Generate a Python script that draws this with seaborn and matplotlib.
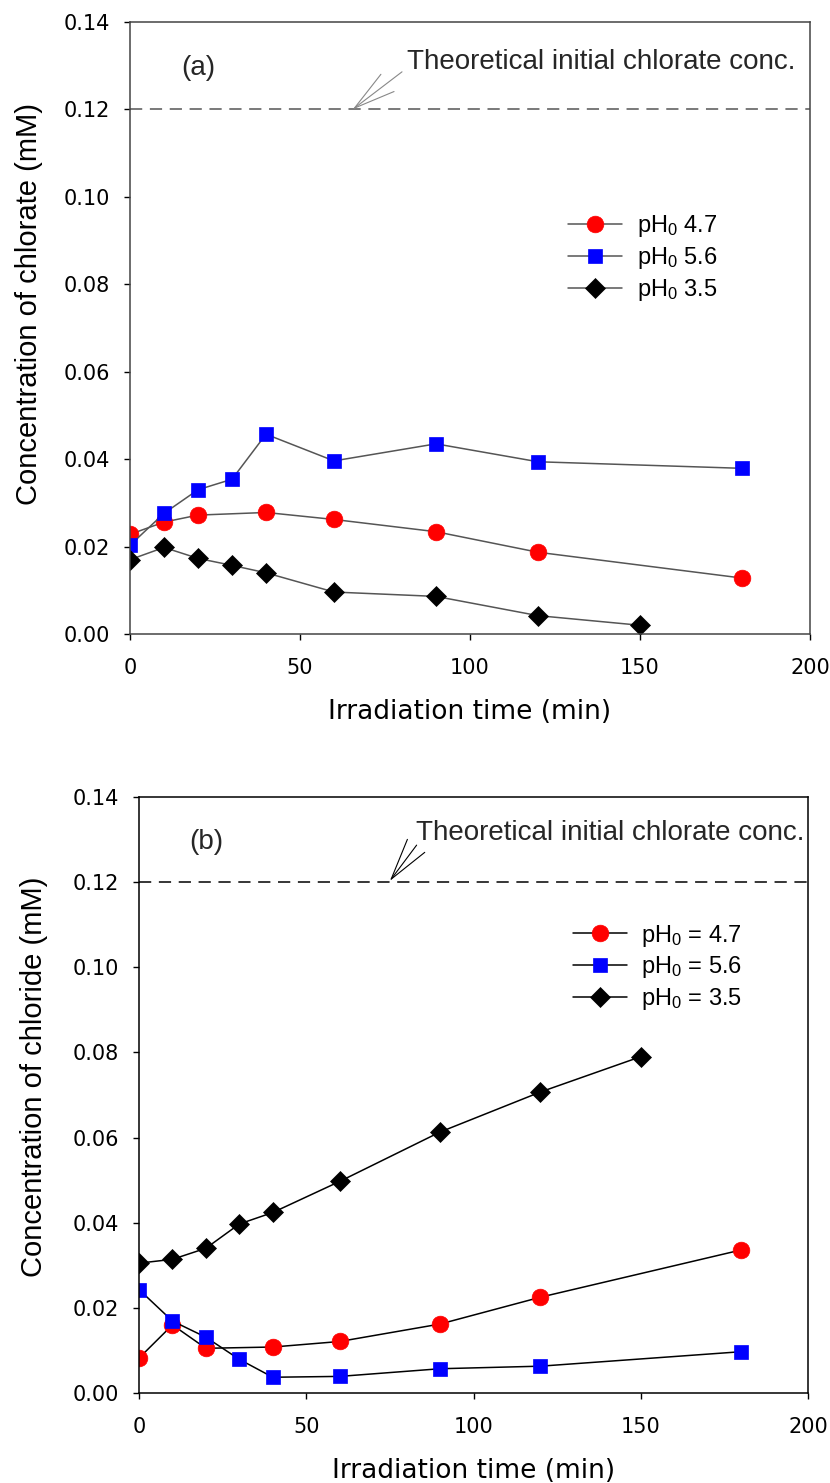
import matplotlib
matplotlib.use("Agg")
import matplotlib.pyplot as plt
import seaborn as sns
import pandas as pd

# ---------------- data ----------------
time_a_47 = [0, 10, 20, 40, 60, 90, 120, 180]
chlorate_47 = [0.0228, 0.0256, 0.0272, 0.0278, 0.0262, 0.0234, 0.0187, 0.0128]
time_a_56 = [0, 10, 20, 30, 40, 60, 90, 120, 180]
chlorate_56 = [0.0203, 0.0276, 0.0330, 0.0354, 0.0457, 0.0396, 0.0435, 0.0394, 0.0379]
time_a_35 = [0, 10, 20, 30, 40, 60, 90, 120, 150]
chlorate_35 = [0.0170, 0.0198, 0.0173, 0.0157, 0.0140, 0.0096, 0.0086, 0.0042, 0.0020]

time_b_47 = [0, 10, 20, 40, 60, 90, 120, 180]
chloride_47 = [0.0082, 0.0160, 0.0105, 0.0108, 0.0121, 0.0162, 0.0225, 0.0336]
time_b_56 = [0, 10, 20, 30, 40, 60, 90, 120, 180]
chloride_56 = [0.0243, 0.0169, 0.0131, 0.0079, 0.0037, 0.0039, 0.0057, 0.0063, 0.0097]
time_b_35 = [0, 10, 20, 30, 40, 60, 90, 120, 150]
chloride_35 = [0.0305, 0.0314, 0.0340, 0.0397, 0.0424, 0.0497, 0.0613, 0.0707, 0.0790]

theoretical = 0.12
labels_a = [r'pH$_0$ 4.7', r'pH$_0$ 5.6', r'pH$_0$ 3.5']
labels_b = [r'pH$_0$ = 4.7', r'pH$_0$ = 5.6', r'pH$_0$ = 3.5']
x_ticks = [0, 50, 100, 150, 200]
y_ticks = [0.00, 0.02, 0.04, 0.06, 0.08, 0.10, 0.12, 0.14]
note = 'Theoretical initial chlorate conc.'

# ---------------- style ----------------
sns.set_theme(style="white")
plt.rcParams['font.family'] = ['DejaVu Sans']
plt.rcParams['mathtext.fontset'] = 'custom'
plt.rcParams['mathtext.rm'] = 'Liberation Sans'
plt.rcParams['mathtext.it'] = 'Liberation Sans'
plt.rcParams['mathtext.default'] = 'regular'
NARROW = ['Liberation Sans', 'DejaVu Sans']

fig = plt.figure(figsize=(8.3, 14.83), dpi=100)
ax1 = fig.add_axes([130 / 830, 1 - 634 / 1483, 680 / 830, 612 / 1483])
ax2 = fig.add_axes([139 / 830, 1 - 1393 / 1483, 669 / 830, 596 / 1483])

colors = ['#ff0000', '#0000ff', '#000000']
markers = ['o', 's', 'D']
msizes = [12, 10.5, 10.5]


def draw(ax, series, labels, linecolor, ylabel, ylab_xy, tag, spinecolor,
         arrow_tip, arrow_start, text_xy, legend_pos):
    handles = []
    for (t, v), lab, c, m, ms in zip(series, labels, colors, markers, msizes):
        df = pd.DataFrame({'t': t, 'v': v})
        sns.lineplot(data=df, x='t', y='v', ax=ax, color=linecolor, lw=1.1,
                     marker=m, markersize=ms, markerfacecolor=c,
                     markeredgecolor=c, markeredgewidth=0.5, sort=False,
                     label=lab, legend=False)
        handles.append(ax.lines[-1])
    ax.axhline(theoretical, color=linecolor, lw=1.1, ls=(0, (8, 5)), zorder=1)
    ax.set_xlim(0, 200)
    ax.set_ylim(0, 0.14)
    ax.set_xticks(x_ticks)
    ax.set_yticks(y_ticks)
    ax.set_yticklabels([f'{v:.2f}' for v in y_ticks])
    ax.tick_params(axis='both', direction='out', length=4.5, width=1, color='black',
                   labelsize=15, left=True, bottom=True, labelcolor='black')
    ax.tick_params(axis='x', pad=13)
    ax.tick_params(axis='y', pad=10)
    for s in ax.spines.values():
        s.set_color(spinecolor)
        s.set_linewidth(1.1)
    ax.set_xlabel('Irradiation time (min)', fontsize=19, labelpad=15, color='black')
    ax.set_ylabel(ylabel, fontsize=21, family=NARROW, color='black')
    ax.yaxis.set_label_coords(*ylab_xy)
    ax.text(15, 0.1295, tag, fontsize=20, family=NARROW, va='center', ha='left')
    ax.text(text_xy[0], text_xy[1], note, fontsize=20, family=NARROW,
            va='center', ha='left')
    ax.annotate('', xy=arrow_tip, xytext=arrow_start,
                arrowprops=dict(arrowstyle='->, head_length=1.15, head_width=0.3',
                                color='#888888' if linecolor != 'black' else 'black',
                                lw=0.8, mutation_scale=26, shrinkA=0, shrinkB=0))
    leg = ax.legend(handles=handles, labels=labels, loc='upper left',
                    bbox_to_anchor=legend_pos, frameon=False,
                    prop={'family': NARROW, 'size': 17}, handlelength=2.3,
                    handletextpad=0.6, labelspacing=0.25)
    for txt in leg.get_texts():
        txt.set_color('black')
    return leg


draw(ax1, [(time_a_47, chlorate_47), (time_a_56, chlorate_56), (time_a_35, chlorate_35)],
     labels_a, '#555555', 'Concentration of chlorate (mM)', (-0.128, 0.54), '(a)', '#444444',
     (65.5, 0.1200), (80.0, 0.1286), (81.6, 0.1309), (0.613, 0.722))
draw(ax2, [(time_b_47, chloride_47), (time_b_56, chloride_56), (time_b_35, chloride_35)],
     labels_b, 'black', 'Concentration of chloride (mM)', (-0.136, 0.53), '(b)', 'black',
     (75, 0.1203), (83.0, 0.1287), (82.8, 0.1315), (0.617, 0.825))

fig.savefig('out.png', dpi=100)
